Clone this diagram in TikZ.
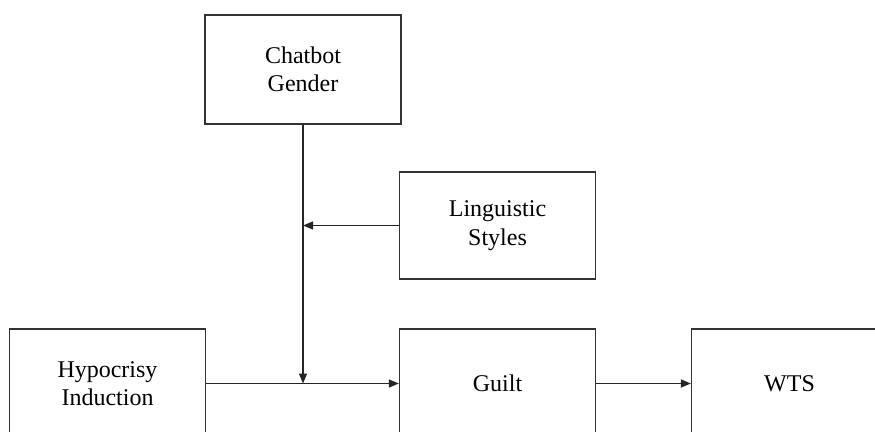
\documentclass[tikz,border=0pt]{standalone}
\usepackage{fontspec}
\setmainfont{Liberation Serif}
\usetikzlibrary{arrows.meta}
\begin{document}
\begin{tikzpicture}[x=1pt,y=-1pt,
  box/.style={draw=black!80,line width=1.3pt,minimum width=196pt,minimum height=109pt,align=center,inner sep=0pt,font=\fontsize{24}{28.5}\selectfont},
  conn/.style={draw=black!85,line width=1.3pt,-{Triangle[length=10pt,width=8pt]}}]
\useasboundingbox (0,0) rectangle (875,431);
\clip (0,0) rectangle (875,431);
\node[box] (cg) at (303,69.5) {Chatbot\\Gender};
\node[box,minimum height=107pt] (ls) at (497.5,225.5) {Linguistic\\Styles};
\node[box] (hi) at (107.5,383.5) {Hypocrisy\\Induction};
\node[box] (gu) at (497.5,383.5) {Guilt};
\node[box] (wts) at (789.5,383.5) {WTS};
\coordinate (m) at (cg.south |- hi.east);
\coordinate (n) at (cg.south |- ls.west);
\draw[conn] (hi.east) -- (gu.west);
\draw[conn] (gu.east) -- (wts.west);
\draw[conn] (cg.south) -- (m);
\draw[conn] (ls.west) -- (n);
\end{tikzpicture}
\end{document}
